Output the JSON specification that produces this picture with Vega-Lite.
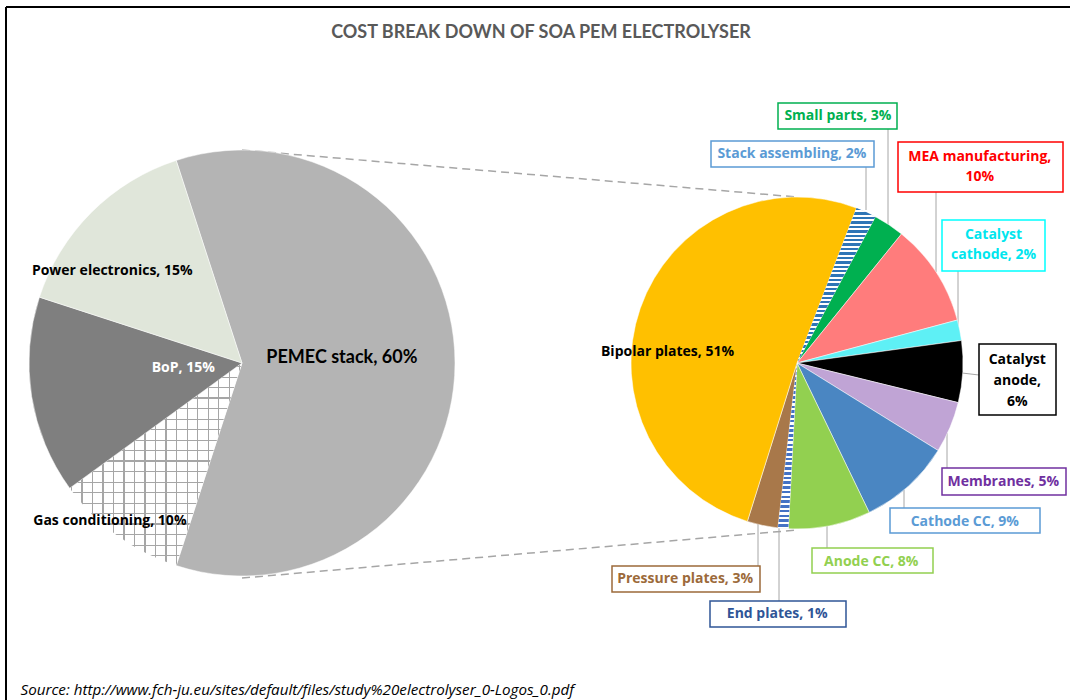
{
  "$schema": "https://vega.github.io/schema/vega-lite/v6.json",
  "width": 1064,
  "height": 693,
  "autosize": {"type": "none"},
  "padding": {"left": 6, "top": 7, "right": 0, "bottom": 0},
  "background": "#ffffff",
  "config": {"view": {"stroke": "#000000", "strokeWidth": 2, "strokeDash": [1064, 1757, 693, 0]}, "font": "Open Sans"},
  "title": {
    "text": "COST BREAK DOWN OF SOA PEM ELECTROLYSER",
    "font": "Lato", "fontSize": 18, "fontWeight": "bold", "color": "#595959",
    "anchor": "middle", "frame": "group", "offset": -49, "baseline": "alphabetic", "dx": 3
  },
  "datasets": {
    "main": [
      {"pie": "main", "cat": "PEMEC stack", "value": 60, "order": 1, "label": "PEMEC stack, 60%"},
      {"pie": "main", "cat": "Gas conditioning", "value": 10, "order": 2, "label": "Gas conditioning, 10%"},
      {"pie": "main", "cat": "BoP", "value": 15, "order": 3, "label": "BoP, 15%"},
      {"pie": "main", "cat": "Power electronics", "value": 15, "order": 4, "label": "Power electronics, 15%"}
    ],
    "sub": [
      {"pie": "sub", "cat": "Stack assembling", "value": 2, "order": 1, "label": "Stack assembling, 2%"},
      {"pie": "sub", "cat": "Small parts", "value": 3, "order": 2, "label": "Small parts, 3%"},
      {"pie": "sub", "cat": "MEA manufacturing", "value": 10, "order": 3, "label": "MEA manufacturing,\n10%"},
      {"pie": "sub", "cat": "Catalyst cathode", "value": 2, "order": 4, "label": "Catalyst\ncathode, 2%"},
      {"pie": "sub", "cat": "Catalyst anode", "value": 6, "order": 5, "label": "Catalyst\nanode,\n6%"},
      {"pie": "sub", "cat": "Membranes", "value": 5, "order": 6, "label": "Membranes, 5%"},
      {"pie": "sub", "cat": "Cathode CC", "value": 9, "order": 7, "label": "Cathode CC, 9%"},
      {"pie": "sub", "cat": "Anode CC", "value": 8, "order": 8, "label": "Anode CC, 8%"},
      {"pie": "sub", "cat": "End plates", "value": 1, "order": 9, "label": "End plates, 1%"},
      {"pie": "sub", "cat": "Pressure plates", "value": 3, "order": 10, "label": "Pressure plates, 3%"},
      {"pie": "sub", "cat": "Bipolar plates", "value": 51, "order": 11, "label": "Bipolar plates, 51%"}
    ]
  },
  "encoding": {
    "x": {
      "field": "pie", "type": "nominal",
      "scale": {"type": "point", "domain": ["main", "sub"], "range": [236, 791], "padding": 0},
      "axis": {
        "title": "Source: http://www.fch-ju.eu/sites/default/files/study%20electrolyser_0-Logos_0.pdf",
        "labels": false, "ticks": false, "domain": false, "grid": false,
        "titleFont": "Open Sans", "titleFontSize": 15.2, "titleFontStyle": "italic", "titleFontWeight": "normal",
        "titleColor": "#000000", "titleAlign": "left", "titleAnchor": "start", "titleAngle": 0,
        "titleX": 14, "titleY": -6, "titleBaseline": "alphabetic"
      }
    },
    "y": {
      "field": "pie", "type": "nominal",
      "scale": {"type": "point", "domain": ["main", "sub"], "range": [356, 356], "padding": 0},
      "axis": null
    }
  },
  "resolve": {"scale": {"theta": "independent"}},
  "layer": [
    {
      "data": {"values": [{"pie": "main", "pie2": "sub"}]},
      "mark": {"type": "rule", "color": "#a6a6a6", "strokeWidth": 1.5, "strokeDash": [8, 5], "yOffset": -213, "y2Offset": -166},
      "encoding": {"x2": {"field": "pie2"}, "y2": {"field": "pie2"}}
    },
    {
      "data": {"values": [{"pie": "main", "pie2": "sub"}]},
      "mark": {"type": "rule", "color": "#a6a6a6", "strokeWidth": 1.5, "strokeDash": [8, 5], "yOffset": 215, "y2Offset": 167},
      "encoding": {"x2": {"field": "pie2"}, "y2": {"field": "pie2"}}
    },
    {
      "data": {"name": "main"},
      "encoding": {
        "theta": {"field": "value", "type": "quantitative", "stack": true, "scale": {"range": [-0.31416, 5.96903]}},
        "order": {"field": "order", "type": "quantitative"},
        "detail": {"field": "cat", "type": "nominal"}
      },
      "layer": [
        {
          "mark": {"type": "arc", "radius": 213, "stroke": "#ffffff", "strokeWidth": 0.5},
          "encoding": {
            "color": {
              "field": "cat", "type": "nominal", "legend": null,
              "scale": {
                "domain": ["PEMEC stack", "Gas conditioning", "BoP", "Power electronics", "Stack assembling", "Small parts", "MEA manufacturing", "Catalyst cathode", "Catalyst anode", "Membranes", "Cathode CC", "Anode CC", "End plates", "Pressure plates", "Bipolar plates"],
                "range": ["#b4b4b4", "#ffffff", "#7f7f7f", "#e0e6da", "#8db4da", "#00b050", "#ff7c7c", "#5ef0f5", "#000000", "#c0a4d5", "#4a86c2", "#92d050", "#b0c4e6", "#a8784a", "#ffc000"]
              }
            }
          }
        },
        {
          "mark": {"type": "arc", "radius": 213, "strokeWidth": 0},
          "encoding": {
            "fill": {
              "condition": {
                "test": "datum.cat === 'Gas conditioning'",
                "value": {
                  "gradient": "linear", "x1": 0, "y1": 0, "x2": 1, "y2": 0,
                  "stops": [
                    {"offset": 0.008, "color": "rgba(166,166,166,0)"}, {"offset": 0.008, "color": "#a6a6a6"}, {"offset": 0.015, "color": "#a6a6a6"}, {"offset": 0.015, "color": "rgba(166,166,166,0)"},
                    {"offset": 0.068, "color": "rgba(166,166,166,0)"}, {"offset": 0.068, "color": "#a6a6a6"}, {"offset": 0.075, "color": "#a6a6a6"}, {"offset": 0.075, "color": "rgba(166,166,166,0)"},
                    {"offset": 0.129, "color": "rgba(166,166,166,0)"}, {"offset": 0.129, "color": "#a6a6a6"}, {"offset": 0.136, "color": "#a6a6a6"}, {"offset": 0.136, "color": "rgba(166,166,166,0)"},
                    {"offset": 0.190, "color": "rgba(166,166,166,0)"}, {"offset": 0.190, "color": "#a6a6a6"}, {"offset": 0.197, "color": "#a6a6a6"}, {"offset": 0.197, "color": "rgba(166,166,166,0)"},
                    {"offset": 0.251, "color": "rgba(166,166,166,0)"}, {"offset": 0.251, "color": "#a6a6a6"}, {"offset": 0.258, "color": "#a6a6a6"}, {"offset": 0.258, "color": "rgba(166,166,166,0)"},
                    {"offset": 0.312, "color": "rgba(166,166,166,0)"}, {"offset": 0.312, "color": "#a6a6a6"}, {"offset": 0.319, "color": "#a6a6a6"}, {"offset": 0.319, "color": "rgba(166,166,166,0)"},
                    {"offset": 0.373, "color": "rgba(166,166,166,0)"}, {"offset": 0.373, "color": "#a6a6a6"}, {"offset": 0.380, "color": "#a6a6a6"}, {"offset": 0.380, "color": "rgba(166,166,166,0)"},
                    {"offset": 0.434, "color": "rgba(166,166,166,0)"}, {"offset": 0.434, "color": "#a6a6a6"}, {"offset": 0.441, "color": "#a6a6a6"}, {"offset": 0.441, "color": "rgba(166,166,166,0)"},
                    {"offset": 0.495, "color": "rgba(166,166,166,0)"}, {"offset": 0.495, "color": "#a6a6a6"}, {"offset": 0.502, "color": "#a6a6a6"}, {"offset": 0.502, "color": "rgba(166,166,166,0)"},
                    {"offset": 0.556, "color": "rgba(166,166,166,0)"}, {"offset": 0.556, "color": "#a6a6a6"}, {"offset": 0.563, "color": "#a6a6a6"}, {"offset": 0.563, "color": "rgba(166,166,166,0)"},
                    {"offset": 0.617, "color": "rgba(166,166,166,0)"}, {"offset": 0.617, "color": "#a6a6a6"}, {"offset": 0.624, "color": "#a6a6a6"}, {"offset": 0.624, "color": "rgba(166,166,166,0)"},
                    {"offset": 0.678, "color": "rgba(166,166,166,0)"}, {"offset": 0.678, "color": "#a6a6a6"}, {"offset": 0.685, "color": "#a6a6a6"}, {"offset": 0.685, "color": "rgba(166,166,166,0)"},
                    {"offset": 0.739, "color": "rgba(166,166,166,0)"}, {"offset": 0.739, "color": "#a6a6a6"}, {"offset": 0.746, "color": "#a6a6a6"}, {"offset": 0.746, "color": "rgba(166,166,166,0)"},
                    {"offset": 0.800, "color": "rgba(166,166,166,0)"}, {"offset": 0.800, "color": "#a6a6a6"}, {"offset": 0.807, "color": "#a6a6a6"}, {"offset": 0.807, "color": "rgba(166,166,166,0)"},
                    {"offset": 0.861, "color": "rgba(166,166,166,0)"}, {"offset": 0.861, "color": "#a6a6a6"}, {"offset": 0.868, "color": "#a6a6a6"}, {"offset": 0.868, "color": "rgba(166,166,166,0)"},
                    {"offset": 0.922, "color": "rgba(166,166,166,0)"}, {"offset": 0.922, "color": "#a6a6a6"}, {"offset": 0.929, "color": "#a6a6a6"}, {"offset": 0.929, "color": "rgba(166,166,166,0)"},
                    {"offset": 0.983, "color": "rgba(166,166,166,0)"}, {"offset": 0.983, "color": "#a6a6a6"}, {"offset": 0.990, "color": "#a6a6a6"}, {"offset": 0.990, "color": "rgba(166,166,166,0)"}
                  ]
                }
              },
              "value": "transparent"
            }
          }
        },
        {
          "mark": {"type": "arc", "radius": 213, "strokeWidth": 0},
          "encoding": {
            "fill": {
              "condition": {
                "test": "datum.cat === 'Gas conditioning'",
                "value": {
                  "gradient": "linear", "x1": 0, "y1": 0, "x2": 0, "y2": 1,
                  "stops": [
                    {"offset": 0.015, "color": "rgba(166,166,166,0)"}, {"offset": 0.015, "color": "#a6a6a6"}, {"offset": 0.021, "color": "#a6a6a6"}, {"offset": 0.021, "color": "rgba(166,166,166,0)"},
                    {"offset": 0.067, "color": "rgba(166,166,166,0)"}, {"offset": 0.067, "color": "#a6a6a6"}, {"offset": 0.073, "color": "#a6a6a6"}, {"offset": 0.073, "color": "rgba(166,166,166,0)"},
                    {"offset": 0.119, "color": "rgba(166,166,166,0)"}, {"offset": 0.119, "color": "#a6a6a6"}, {"offset": 0.125, "color": "#a6a6a6"}, {"offset": 0.125, "color": "rgba(166,166,166,0)"},
                    {"offset": 0.170, "color": "rgba(166,166,166,0)"}, {"offset": 0.170, "color": "#a6a6a6"}, {"offset": 0.176, "color": "#a6a6a6"}, {"offset": 0.176, "color": "rgba(166,166,166,0)"},
                    {"offset": 0.222, "color": "rgba(166,166,166,0)"}, {"offset": 0.222, "color": "#a6a6a6"}, {"offset": 0.228, "color": "#a6a6a6"}, {"offset": 0.228, "color": "rgba(166,166,166,0)"},
                    {"offset": 0.274, "color": "rgba(166,166,166,0)"}, {"offset": 0.274, "color": "#a6a6a6"}, {"offset": 0.280, "color": "#a6a6a6"}, {"offset": 0.280, "color": "rgba(166,166,166,0)"},
                    {"offset": 0.326, "color": "rgba(166,166,166,0)"}, {"offset": 0.326, "color": "#a6a6a6"}, {"offset": 0.332, "color": "#a6a6a6"}, {"offset": 0.332, "color": "rgba(166,166,166,0)"},
                    {"offset": 0.378, "color": "rgba(166,166,166,0)"}, {"offset": 0.378, "color": "#a6a6a6"}, {"offset": 0.384, "color": "#a6a6a6"}, {"offset": 0.384, "color": "rgba(166,166,166,0)"},
                    {"offset": 0.429, "color": "rgba(166,166,166,0)"}, {"offset": 0.429, "color": "#a6a6a6"}, {"offset": 0.435, "color": "#a6a6a6"}, {"offset": 0.435, "color": "rgba(166,166,166,0)"},
                    {"offset": 0.481, "color": "rgba(166,166,166,0)"}, {"offset": 0.481, "color": "#a6a6a6"}, {"offset": 0.487, "color": "#a6a6a6"}, {"offset": 0.487, "color": "rgba(166,166,166,0)"},
                    {"offset": 0.533, "color": "rgba(166,166,166,0)"}, {"offset": 0.533, "color": "#a6a6a6"}, {"offset": 0.539, "color": "#a6a6a6"}, {"offset": 0.539, "color": "rgba(166,166,166,0)"},
                    {"offset": 0.585, "color": "rgba(166,166,166,0)"}, {"offset": 0.585, "color": "#a6a6a6"}, {"offset": 0.591, "color": "#a6a6a6"}, {"offset": 0.591, "color": "rgba(166,166,166,0)"},
                    {"offset": 0.637, "color": "rgba(166,166,166,0)"}, {"offset": 0.637, "color": "#a6a6a6"}, {"offset": 0.643, "color": "#a6a6a6"}, {"offset": 0.643, "color": "rgba(166,166,166,0)"},
                    {"offset": 0.689, "color": "rgba(166,166,166,0)"}, {"offset": 0.689, "color": "#a6a6a6"}, {"offset": 0.695, "color": "#a6a6a6"}, {"offset": 0.695, "color": "rgba(166,166,166,0)"},
                    {"offset": 0.740, "color": "rgba(166,166,166,0)"}, {"offset": 0.740, "color": "#a6a6a6"}, {"offset": 0.746, "color": "#a6a6a6"}, {"offset": 0.746, "color": "rgba(166,166,166,0)"},
                    {"offset": 0.792, "color": "rgba(166,166,166,0)"}, {"offset": 0.792, "color": "#a6a6a6"}, {"offset": 0.798, "color": "#a6a6a6"}, {"offset": 0.798, "color": "rgba(166,166,166,0)"},
                    {"offset": 0.844, "color": "rgba(166,166,166,0)"}, {"offset": 0.844, "color": "#a6a6a6"}, {"offset": 0.850, "color": "#a6a6a6"}, {"offset": 0.850, "color": "rgba(166,166,166,0)"},
                    {"offset": 0.896, "color": "rgba(166,166,166,0)"}, {"offset": 0.896, "color": "#a6a6a6"}, {"offset": 0.902, "color": "#a6a6a6"}, {"offset": 0.902, "color": "rgba(166,166,166,0)"},
                    {"offset": 0.948, "color": "rgba(166,166,166,0)"}, {"offset": 0.948, "color": "#a6a6a6"}, {"offset": 0.954, "color": "#a6a6a6"}, {"offset": 0.954, "color": "rgba(166,166,166,0)"}
                  ]
                }
              },
              "value": "transparent"
            }
          }
        },
        {
          "mark": {"type": "text", "radius": 100, "thetaOffset": -0.051, "font": "Lato", "fontSize": 18, "fontWeight": "bold", "color": "#000000"},
          "encoding": {"text": {"condition": {"test": "datum.cat === 'PEMEC stack'", "field": "label", "type": "nominal"}, "value": ""}}
        },
        {
          "mark": {"type": "text", "radius": 159, "thetaOffset": -0.169, "font": "Open Sans", "fontSize": 14, "fontWeight": "bold", "color": "#000000"},
          "encoding": {"text": {"condition": {"test": "datum.cat === 'Power electronics'", "field": "label", "type": "nominal"}, "value": ""}}
        },
        {
          "mark": {"type": "text", "radius": 59, "thetaOffset": 0.073, "font": "Open Sans", "fontSize": 14, "fontWeight": "bold", "color": "#ffffff"},
          "encoding": {"text": {"condition": {"test": "datum.cat === 'BoP'", "field": "label", "type": "nominal"}, "value": ""}}
        },
        {
          "mark": {"type": "text", "radius": 206, "thetaOffset": 0.068, "font": "Open Sans", "fontSize": 14, "fontWeight": "bold", "color": "#000000"},
          "encoding": {"text": {"condition": {"test": "datum.cat === 'Gas conditioning'", "field": "label", "type": "nominal"}, "value": ""}}
        }
      ]
    },
    {"data": {"values": [{"pie": "sub", "cat": "Stack assembling"}]}, "mark": {"type": "rule", "color": "#a6a6a6", "strokeWidth": 1, "xOffset": 69, "x2Offset": 69, "yOffset": -196, "y2Offset": -153}, "encoding": {"x2": {"field": "pie"}, "y2": {"field": "pie"}}},
    {"data": {"values": [{"pie": "sub", "cat": "Small parts"}]}, "mark": {"type": "rule", "color": "#a6a6a6", "strokeWidth": 1, "xOffset": 91, "x2Offset": 91, "yOffset": -234, "y2Offset": -138}, "encoding": {"x2": {"field": "pie"}, "y2": {"field": "pie"}}},
    {"data": {"values": [{"pie": "sub", "cat": "MEA manufacturing"}]}, "mark": {"type": "rule", "color": "#a6a6a6", "strokeWidth": 1, "xOffset": 139, "x2Offset": 139, "yOffset": -171, "y2Offset": -91}, "encoding": {"x2": {"field": "pie"}, "y2": {"field": "pie"}}},
    {"data": {"values": [{"pie": "sub", "cat": "Catalyst cathode"}]}, "mark": {"type": "rule", "color": "#a6a6a6", "strokeWidth": 1, "xOffset": 161, "x2Offset": 161, "yOffset": -92, "y2Offset": -37}, "encoding": {"x2": {"field": "pie"}, "y2": {"field": "pie"}}},
    {"data": {"values": [{"pie": "sub", "cat": "Catalyst anode"}]}, "mark": {"type": "rule", "color": "#a6a6a6", "strokeWidth": 1, "xOffset": 165, "x2Offset": 182, "yOffset": 10, "y2Offset": 12}, "encoding": {"x2": {"field": "pie"}, "y2": {"field": "pie"}}},
    {"data": {"values": [{"pie": "sub", "cat": "Membranes"}]}, "mark": {"type": "rule", "color": "#a6a6a6", "strokeWidth": 1, "xOffset": 150, "x2Offset": 150, "yOffset": 105, "y2Offset": 70}, "encoding": {"x2": {"field": "pie"}, "y2": {"field": "pie"}}},
    {"data": {"values": [{"pie": "sub", "cat": "Cathode CC"}]}, "mark": {"type": "rule", "color": "#a6a6a6", "strokeWidth": 1, "xOffset": 107, "x2Offset": 107, "yOffset": 145, "y2Offset": 127}, "encoding": {"x2": {"field": "pie"}, "y2": {"field": "pie"}}},
    {"data": {"values": [{"pie": "sub", "cat": "Anode CC"}]}, "mark": {"type": "rule", "color": "#a6a6a6", "strokeWidth": 1, "xOffset": 30, "x2Offset": 30, "yOffset": 185, "y2Offset": 162}, "encoding": {"x2": {"field": "pie"}, "y2": {"field": "pie"}}},
    {"data": {"values": [{"pie": "sub", "cat": "Pressure plates"}]}, "mark": {"type": "rule", "color": "#a6a6a6", "strokeWidth": 1, "xOffset": -39, "x2Offset": -39, "yOffset": 203, "y2Offset": 160}, "encoding": {"x2": {"field": "pie"}, "y2": {"field": "pie"}}},
    {"data": {"values": [{"pie": "sub", "cat": "End plates"}]}, "mark": {"type": "rule", "color": "#a6a6a6", "strokeWidth": 1, "xOffset": -18, "x2Offset": -18, "yOffset": 238, "y2Offset": 164}, "encoding": {"x2": {"field": "pie"}, "y2": {"field": "pie"}}},
    {"data": {"values": [{"pie": "sub", "cat": "Small parts"}]}, "mark": {"type": "rect", "fill": "#ffffff", "stroke": "#00b050", "strokeWidth": 1.5, "xOffset": -19, "x2Offset": 100, "yOffset": -260, "y2Offset": -234}, "encoding": {"x2": {"field": "pie"}, "y2": {"field": "pie"}}},
    {"data": {"values": [{"pie": "sub", "cat": "Stack assembling"}]}, "mark": {"type": "rect", "fill": "#ffffff", "stroke": "#5b9bd5", "strokeWidth": 1.5, "xOffset": -86, "x2Offset": 77, "yOffset": -222, "y2Offset": -196}, "encoding": {"x2": {"field": "pie"}, "y2": {"field": "pie"}}},
    {"data": {"values": [{"pie": "sub", "cat": "MEA manufacturing"}]}, "mark": {"type": "rect", "fill": "#ffffff", "stroke": "#ff0000", "strokeWidth": 1.5, "xOffset": 101, "x2Offset": 266, "yOffset": -221, "y2Offset": -171}, "encoding": {"x2": {"field": "pie"}, "y2": {"field": "pie"}}},
    {"data": {"values": [{"pie": "sub", "cat": "Catalyst cathode"}]}, "mark": {"type": "rect", "fill": "#ffffff", "stroke": "#00ffff", "strokeWidth": 1.5, "xOffset": 145, "x2Offset": 248, "yOffset": -143, "y2Offset": -92}, "encoding": {"x2": {"field": "pie"}, "y2": {"field": "pie"}}},
    {"data": {"values": [{"pie": "sub", "cat": "Catalyst anode"}]}, "mark": {"type": "rect", "fill": "#ffffff", "stroke": "#000000", "strokeWidth": 1.5, "xOffset": 182, "x2Offset": 259, "yOffset": -19, "y2Offset": 52}, "encoding": {"x2": {"field": "pie"}, "y2": {"field": "pie"}}},
    {"data": {"values": [{"pie": "sub", "cat": "Membranes"}]}, "mark": {"type": "rect", "fill": "#ffffff", "stroke": "#7030a0", "strokeWidth": 1.5, "xOffset": 145, "x2Offset": 269, "yOffset": 105, "y2Offset": 132}, "encoding": {"x2": {"field": "pie"}, "y2": {"field": "pie"}}},
    {"data": {"values": [{"pie": "sub", "cat": "Cathode CC"}]}, "mark": {"type": "rect", "fill": "#ffffff", "stroke": "#5b9bd5", "strokeWidth": 1.5, "xOffset": 93, "x2Offset": 243, "yOffset": 145, "y2Offset": 170}, "encoding": {"x2": {"field": "pie"}, "y2": {"field": "pie"}}},
    {"data": {"values": [{"pie": "sub", "cat": "Anode CC"}]}, "mark": {"type": "rect", "fill": "#ffffff", "stroke": "#92d050", "strokeWidth": 1.5, "xOffset": 15, "x2Offset": 136, "yOffset": 185, "y2Offset": 210}, "encoding": {"x2": {"field": "pie"}, "y2": {"field": "pie"}}},
    {"data": {"values": [{"pie": "sub", "cat": "Pressure plates"}]}, "mark": {"type": "rect", "fill": "#ffffff", "stroke": "#9c6a3a", "strokeWidth": 1.5, "xOffset": -185, "x2Offset": -37, "yOffset": 203, "y2Offset": 229}, "encoding": {"x2": {"field": "pie"}, "y2": {"field": "pie"}}},
    {"data": {"values": [{"pie": "sub", "cat": "End plates"}]}, "mark": {"type": "rect", "fill": "#ffffff", "stroke": "#2f5597", "strokeWidth": 1.5, "xOffset": -87, "x2Offset": 49, "yOffset": 238, "y2Offset": 264}, "encoding": {"x2": {"field": "pie"}, "y2": {"field": "pie"}}},
    {
      "data": {"name": "sub"},
      "encoding": {
        "theta": {"field": "value", "type": "quantitative", "stack": true, "scale": {"range": [0.36652, 6.64971]}},
        "order": {"field": "order", "type": "quantitative"},
        "detail": {"field": "cat", "type": "nominal"}
      },
      "layer": [
        {
          "mark": {"type": "arc", "radius": 166, "stroke": "#ffffff", "strokeWidth": 0.5},
          "encoding": {"color": {"field": "cat", "type": "nominal", "legend": null}}
        },
        {
          "mark": {"type": "arc", "radius": 166, "strokeWidth": 0},
          "encoding": {
            "fill": {
              "condition": {
                "test": "datum.cat === 'Stack assembling'",
                "value": {
                  "gradient": "linear", "x1": 0, "y1": 0, "x2": 0, "y2": 1,
                  "stops": [
                    {"offset": 0, "color": "#2e75b6"}, {"offset": 0.0157, "color": "#2e75b6"}, {"offset": 0.0157, "color": "#ffffff"}, {"offset": 0.0286, "color": "#ffffff"},
                    {"offset": 0.0286, "color": "#2e75b6"}, {"offset": 0.0443, "color": "#2e75b6"}, {"offset": 0.0443, "color": "#ffffff"}, {"offset": 0.0571, "color": "#ffffff"},
                    {"offset": 0.0571, "color": "#2e75b6"}, {"offset": 0.0728, "color": "#2e75b6"}, {"offset": 0.0728, "color": "#ffffff"}, {"offset": 0.0857, "color": "#ffffff"},
                    {"offset": 0.0857, "color": "#2e75b6"}, {"offset": 0.1014, "color": "#2e75b6"}, {"offset": 0.1014, "color": "#ffffff"}, {"offset": 0.1143, "color": "#ffffff"},
                    {"offset": 0.1143, "color": "#2e75b6"}, {"offset": 0.13, "color": "#2e75b6"}, {"offset": 0.13, "color": "#ffffff"}, {"offset": 0.1429, "color": "#ffffff"},
                    {"offset": 0.1429, "color": "#2e75b6"}, {"offset": 0.1586, "color": "#2e75b6"}, {"offset": 0.1586, "color": "#ffffff"}, {"offset": 0.1714, "color": "#ffffff"},
                    {"offset": 0.1714, "color": "#2e75b6"}, {"offset": 0.1871, "color": "#2e75b6"}, {"offset": 0.1871, "color": "#ffffff"}, {"offset": 0.2, "color": "#ffffff"},
                    {"offset": 0.2, "color": "#2e75b6"}, {"offset": 0.2157, "color": "#2e75b6"}, {"offset": 0.2157, "color": "#ffffff"}, {"offset": 0.2286, "color": "#ffffff"},
                    {"offset": 0.2286, "color": "#2e75b6"}, {"offset": 0.2443, "color": "#2e75b6"}, {"offset": 0.2443, "color": "#ffffff"}, {"offset": 0.2571, "color": "#ffffff"},
                    {"offset": 0.2571, "color": "#2e75b6"}, {"offset": 0.2728, "color": "#2e75b6"}, {"offset": 0.2728, "color": "#ffffff"}, {"offset": 0.2857, "color": "#ffffff"},
                    {"offset": 0.2857, "color": "#2e75b6"}, {"offset": 0.3014, "color": "#2e75b6"}, {"offset": 0.3014, "color": "#ffffff"}, {"offset": 0.3143, "color": "#ffffff"},
                    {"offset": 0.3143, "color": "#2e75b6"}, {"offset": 0.33, "color": "#2e75b6"}, {"offset": 0.33, "color": "#ffffff"}, {"offset": 0.3429, "color": "#ffffff"},
                    {"offset": 0.3429, "color": "#2e75b6"}, {"offset": 0.3586, "color": "#2e75b6"}, {"offset": 0.3586, "color": "#ffffff"}, {"offset": 0.3714, "color": "#ffffff"},
                    {"offset": 0.3714, "color": "#2e75b6"}, {"offset": 0.3871, "color": "#2e75b6"}, {"offset": 0.3871, "color": "#ffffff"}, {"offset": 0.4, "color": "#ffffff"},
                    {"offset": 0.4, "color": "#2e75b6"}, {"offset": 0.4157, "color": "#2e75b6"}, {"offset": 0.4157, "color": "#ffffff"}, {"offset": 0.4286, "color": "#ffffff"},
                    {"offset": 0.4286, "color": "#2e75b6"}, {"offset": 0.4443, "color": "#2e75b6"}, {"offset": 0.4443, "color": "#ffffff"}, {"offset": 0.4571, "color": "#ffffff"},
                    {"offset": 0.4571, "color": "#2e75b6"}, {"offset": 0.4728, "color": "#2e75b6"}, {"offset": 0.4728, "color": "#ffffff"}, {"offset": 0.4857, "color": "#ffffff"},
                    {"offset": 0.4857, "color": "#2e75b6"}, {"offset": 0.5014, "color": "#2e75b6"}, {"offset": 0.5014, "color": "#ffffff"}, {"offset": 0.5143, "color": "#ffffff"},
                    {"offset": 0.5143, "color": "#2e75b6"}, {"offset": 0.53, "color": "#2e75b6"}, {"offset": 0.53, "color": "#ffffff"}, {"offset": 0.5429, "color": "#ffffff"},
                    {"offset": 0.5429, "color": "#2e75b6"}, {"offset": 0.5586, "color": "#2e75b6"}, {"offset": 0.5586, "color": "#ffffff"}, {"offset": 0.5714, "color": "#ffffff"},
                    {"offset": 0.5714, "color": "#2e75b6"}, {"offset": 0.5871, "color": "#2e75b6"}, {"offset": 0.5871, "color": "#ffffff"}, {"offset": 0.6, "color": "#ffffff"},
                    {"offset": 0.6, "color": "#2e75b6"}, {"offset": 0.6157, "color": "#2e75b6"}, {"offset": 0.6157, "color": "#ffffff"}, {"offset": 0.6286, "color": "#ffffff"},
                    {"offset": 0.6286, "color": "#2e75b6"}, {"offset": 0.6443, "color": "#2e75b6"}, {"offset": 0.6443, "color": "#ffffff"}, {"offset": 0.6571, "color": "#ffffff"},
                    {"offset": 0.6571, "color": "#2e75b6"}, {"offset": 0.6728, "color": "#2e75b6"}, {"offset": 0.6728, "color": "#ffffff"}, {"offset": 0.6857, "color": "#ffffff"},
                    {"offset": 0.6857, "color": "#2e75b6"}, {"offset": 0.7014, "color": "#2e75b6"}, {"offset": 0.7014, "color": "#ffffff"}, {"offset": 0.7143, "color": "#ffffff"},
                    {"offset": 0.7143, "color": "#2e75b6"}, {"offset": 0.73, "color": "#2e75b6"}, {"offset": 0.73, "color": "#ffffff"}, {"offset": 0.7429, "color": "#ffffff"},
                    {"offset": 0.7429, "color": "#2e75b6"}, {"offset": 0.7586, "color": "#2e75b6"}, {"offset": 0.7586, "color": "#ffffff"}, {"offset": 0.7714, "color": "#ffffff"},
                    {"offset": 0.7714, "color": "#2e75b6"}, {"offset": 0.7871, "color": "#2e75b6"}, {"offset": 0.7871, "color": "#ffffff"}, {"offset": 0.8, "color": "#ffffff"},
                    {"offset": 0.8, "color": "#2e75b6"}, {"offset": 0.8157, "color": "#2e75b6"}, {"offset": 0.8157, "color": "#ffffff"}, {"offset": 0.8286, "color": "#ffffff"},
                    {"offset": 0.8286, "color": "#2e75b6"}, {"offset": 0.8443, "color": "#2e75b6"}, {"offset": 0.8443, "color": "#ffffff"}, {"offset": 0.8571, "color": "#ffffff"},
                    {"offset": 0.8571, "color": "#2e75b6"}, {"offset": 0.8728, "color": "#2e75b6"}, {"offset": 0.8728, "color": "#ffffff"}, {"offset": 0.8857, "color": "#ffffff"},
                    {"offset": 0.8857, "color": "#2e75b6"}, {"offset": 0.9014, "color": "#2e75b6"}, {"offset": 0.9014, "color": "#ffffff"}, {"offset": 0.9143, "color": "#ffffff"},
                    {"offset": 0.9143, "color": "#2e75b6"}, {"offset": 0.93, "color": "#2e75b6"}, {"offset": 0.93, "color": "#ffffff"}, {"offset": 0.9429, "color": "#ffffff"},
                    {"offset": 0.9429, "color": "#2e75b6"}, {"offset": 0.9586, "color": "#2e75b6"}, {"offset": 0.9586, "color": "#ffffff"}, {"offset": 0.9714, "color": "#ffffff"},
                    {"offset": 0.9714, "color": "#2e75b6"}, {"offset": 0.9871, "color": "#2e75b6"}, {"offset": 0.9871, "color": "#ffffff"}, {"offset": 1, "color": "#ffffff"}
                  ]
                }
              },
              "value": "transparent"
            }
          }
        },
        {
          "mark": {"type": "arc", "radius": 166, "strokeWidth": 0},
          "encoding": {
            "fill": {
              "condition": {
                "test": "datum.cat === 'End plates'",
                "value": {
                  "gradient": "linear", "x1": 0, "y1": 0, "x2": 0, "y2": 1,
                  "stops": [
                    {"offset": 0, "color": "#4472c4"}, {"offset": 0.0157, "color": "#4472c4"}, {"offset": 0.0157, "color": "#ffffff"}, {"offset": 0.0286, "color": "#ffffff"},
                    {"offset": 0.0286, "color": "#4472c4"}, {"offset": 0.0443, "color": "#4472c4"}, {"offset": 0.0443, "color": "#ffffff"}, {"offset": 0.0571, "color": "#ffffff"},
                    {"offset": 0.0571, "color": "#4472c4"}, {"offset": 0.0728, "color": "#4472c4"}, {"offset": 0.0728, "color": "#ffffff"}, {"offset": 0.0857, "color": "#ffffff"},
                    {"offset": 0.0857, "color": "#4472c4"}, {"offset": 0.1014, "color": "#4472c4"}, {"offset": 0.1014, "color": "#ffffff"}, {"offset": 0.1143, "color": "#ffffff"},
                    {"offset": 0.1143, "color": "#4472c4"}, {"offset": 0.13, "color": "#4472c4"}, {"offset": 0.13, "color": "#ffffff"}, {"offset": 0.1429, "color": "#ffffff"},
                    {"offset": 0.1429, "color": "#4472c4"}, {"offset": 0.1586, "color": "#4472c4"}, {"offset": 0.1586, "color": "#ffffff"}, {"offset": 0.1714, "color": "#ffffff"},
                    {"offset": 0.1714, "color": "#4472c4"}, {"offset": 0.1871, "color": "#4472c4"}, {"offset": 0.1871, "color": "#ffffff"}, {"offset": 0.2, "color": "#ffffff"},
                    {"offset": 0.2, "color": "#4472c4"}, {"offset": 0.2157, "color": "#4472c4"}, {"offset": 0.2157, "color": "#ffffff"}, {"offset": 0.2286, "color": "#ffffff"},
                    {"offset": 0.2286, "color": "#4472c4"}, {"offset": 0.2443, "color": "#4472c4"}, {"offset": 0.2443, "color": "#ffffff"}, {"offset": 0.2571, "color": "#ffffff"},
                    {"offset": 0.2571, "color": "#4472c4"}, {"offset": 0.2728, "color": "#4472c4"}, {"offset": 0.2728, "color": "#ffffff"}, {"offset": 0.2857, "color": "#ffffff"},
                    {"offset": 0.2857, "color": "#4472c4"}, {"offset": 0.3014, "color": "#4472c4"}, {"offset": 0.3014, "color": "#ffffff"}, {"offset": 0.3143, "color": "#ffffff"},
                    {"offset": 0.3143, "color": "#4472c4"}, {"offset": 0.33, "color": "#4472c4"}, {"offset": 0.33, "color": "#ffffff"}, {"offset": 0.3429, "color": "#ffffff"},
                    {"offset": 0.3429, "color": "#4472c4"}, {"offset": 0.3586, "color": "#4472c4"}, {"offset": 0.3586, "color": "#ffffff"}, {"offset": 0.3714, "color": "#ffffff"},
                    {"offset": 0.3714, "color": "#4472c4"}, {"offset": 0.3871, "color": "#4472c4"}, {"offset": 0.3871, "color": "#ffffff"}, {"offset": 0.4, "color": "#ffffff"},
                    {"offset": 0.4, "color": "#4472c4"}, {"offset": 0.4157, "color": "#4472c4"}, {"offset": 0.4157, "color": "#ffffff"}, {"offset": 0.4286, "color": "#ffffff"},
                    {"offset": 0.4286, "color": "#4472c4"}, {"offset": 0.4443, "color": "#4472c4"}, {"offset": 0.4443, "color": "#ffffff"}, {"offset": 0.4571, "color": "#ffffff"},
                    {"offset": 0.4571, "color": "#4472c4"}, {"offset": 0.4728, "color": "#4472c4"}, {"offset": 0.4728, "color": "#ffffff"}, {"offset": 0.4857, "color": "#ffffff"},
                    {"offset": 0.4857, "color": "#4472c4"}, {"offset": 0.5014, "color": "#4472c4"}, {"offset": 0.5014, "color": "#ffffff"}, {"offset": 0.5143, "color": "#ffffff"},
                    {"offset": 0.5143, "color": "#4472c4"}, {"offset": 0.53, "color": "#4472c4"}, {"offset": 0.53, "color": "#ffffff"}, {"offset": 0.5429, "color": "#ffffff"},
                    {"offset": 0.5429, "color": "#4472c4"}, {"offset": 0.5586, "color": "#4472c4"}, {"offset": 0.5586, "color": "#ffffff"}, {"offset": 0.5714, "color": "#ffffff"},
                    {"offset": 0.5714, "color": "#4472c4"}, {"offset": 0.5871, "color": "#4472c4"}, {"offset": 0.5871, "color": "#ffffff"}, {"offset": 0.6, "color": "#ffffff"},
                    {"offset": 0.6, "color": "#4472c4"}, {"offset": 0.6157, "color": "#4472c4"}, {"offset": 0.6157, "color": "#ffffff"}, {"offset": 0.6286, "color": "#ffffff"},
                    {"offset": 0.6286, "color": "#4472c4"}, {"offset": 0.6443, "color": "#4472c4"}, {"offset": 0.6443, "color": "#ffffff"}, {"offset": 0.6571, "color": "#ffffff"},
                    {"offset": 0.6571, "color": "#4472c4"}, {"offset": 0.6728, "color": "#4472c4"}, {"offset": 0.6728, "color": "#ffffff"}, {"offset": 0.6857, "color": "#ffffff"},
                    {"offset": 0.6857, "color": "#4472c4"}, {"offset": 0.7014, "color": "#4472c4"}, {"offset": 0.7014, "color": "#ffffff"}, {"offset": 0.7143, "color": "#ffffff"},
                    {"offset": 0.7143, "color": "#4472c4"}, {"offset": 0.73, "color": "#4472c4"}, {"offset": 0.73, "color": "#ffffff"}, {"offset": 0.7429, "color": "#ffffff"},
                    {"offset": 0.7429, "color": "#4472c4"}, {"offset": 0.7586, "color": "#4472c4"}, {"offset": 0.7586, "color": "#ffffff"}, {"offset": 0.7714, "color": "#ffffff"},
                    {"offset": 0.7714, "color": "#4472c4"}, {"offset": 0.7871, "color": "#4472c4"}, {"offset": 0.7871, "color": "#ffffff"}, {"offset": 0.8, "color": "#ffffff"},
                    {"offset": 0.8, "color": "#4472c4"}, {"offset": 0.8157, "color": "#4472c4"}, {"offset": 0.8157, "color": "#ffffff"}, {"offset": 0.8286, "color": "#ffffff"},
                    {"offset": 0.8286, "color": "#4472c4"}, {"offset": 0.8443, "color": "#4472c4"}, {"offset": 0.8443, "color": "#ffffff"}, {"offset": 0.8571, "color": "#ffffff"},
                    {"offset": 0.8571, "color": "#4472c4"}, {"offset": 0.8728, "color": "#4472c4"}, {"offset": 0.8728, "color": "#ffffff"}, {"offset": 0.8857, "color": "#ffffff"},
                    {"offset": 0.8857, "color": "#4472c4"}, {"offset": 0.9014, "color": "#4472c4"}, {"offset": 0.9014, "color": "#ffffff"}, {"offset": 0.9143, "color": "#ffffff"},
                    {"offset": 0.9143, "color": "#4472c4"}, {"offset": 0.93, "color": "#4472c4"}, {"offset": 0.93, "color": "#ffffff"}, {"offset": 0.9429, "color": "#ffffff"},
                    {"offset": 0.9429, "color": "#4472c4"}, {"offset": 0.9586, "color": "#4472c4"}, {"offset": 0.9586, "color": "#ffffff"}, {"offset": 0.9714, "color": "#ffffff"},
                    {"offset": 0.9714, "color": "#4472c4"}, {"offset": 0.9871, "color": "#4472c4"}, {"offset": 0.9871, "color": "#ffffff"}, {"offset": 1, "color": "#ffffff"}
                  ]
                }
              },
              "value": "transparent"
            }
          }
        },
        {
          "mark": {"type": "text", "radius": 209, "thetaOffset": -0.454, "font": "Open Sans", "fontSize": 14, "fontWeight": "bold", "color": "#5b9bd5", "lineBreak": "\n", "lineHeight": 20},
          "encoding": {"text": {"condition": {"test": "datum.cat === 'Stack assembling'", "field": "label", "type": "nominal"}, "value": ""}}
        },
        {
          "mark": {"type": "text", "radius": 250, "thetaOffset": -0.422, "font": "Open Sans", "fontSize": 14, "fontWeight": "bold", "color": "#00b050", "lineBreak": "\n", "lineHeight": 20},
          "encoding": {"text": {"condition": {"test": "datum.cat === 'Small parts'", "field": "label", "type": "nominal"}, "value": ""}}
        },
        {
          "mark": {"type": "text", "radius": 268, "thetaOffset": -0.244, "dy": -10, "font": "Open Sans", "fontSize": 14, "fontWeight": "bold", "color": "#ff0000", "lineBreak": "\n", "lineHeight": 20},
          "encoding": {"text": {"condition": {"test": "datum.cat === 'MEA manufacturing'", "field": "label", "type": "nominal"}, "value": ""}}
        },
        {
          "mark": {"type": "text", "radius": 229, "thetaOffset": -0.34, "dy": -10, "font": "Open Sans", "fontSize": 14, "fontWeight": "bold", "color": "#00e6ee", "lineBreak": "\n", "lineHeight": 20},
          "encoding": {"text": {"condition": {"test": "datum.cat === 'Catalyst cathode'", "field": "label", "type": "nominal"}, "value": ""}}
        },
        {
          "mark": {"type": "text", "radius": 221, "thetaOffset": 0.028, "dy": -21, "font": "Open Sans", "fontSize": 14, "fontWeight": "bold", "color": "#000000", "lineBreak": "\n", "lineHeight": 21},
          "encoding": {"text": {"condition": {"test": "datum.cat === 'Catalyst anode'", "field": "label", "type": "nominal"}, "value": ""}}
        },
        {
          "mark": {"type": "text", "radius": 238, "thetaOffset": 0.124, "font": "Open Sans", "fontSize": 14, "fontWeight": "bold", "color": "#7030a0", "lineBreak": "\n", "lineHeight": 20},
          "encoding": {"text": {"condition": {"test": "datum.cat === 'Membranes'", "field": "label", "type": "nominal"}, "value": ""}}
        },
        {
          "mark": {"type": "text", "radius": 231, "thetaOffset": -0.08, "font": "Open Sans", "fontSize": 14, "fontWeight": "bold", "color": "#5b9bd5", "lineBreak": "\n", "lineHeight": 20},
          "encoding": {"text": {"condition": {"test": "datum.cat === 'Cathode CC'", "field": "label", "type": "nominal"}, "value": ""}}
        },
        {
          "mark": {"type": "text", "radius": 212, "thetaOffset": -0.159, "font": "Open Sans", "fontSize": 14, "fontWeight": "bold", "color": "#92d050", "lineBreak": "\n", "lineHeight": 20},
          "encoding": {"text": {"condition": {"test": "datum.cat === 'Anode CC'", "field": "label", "type": "nominal"}, "value": ""}}
        },
        {
          "mark": {"type": "text", "radius": 252, "thetaOffset": -0.005, "font": "Open Sans", "fontSize": 14, "fontWeight": "bold", "color": "#2f5597", "lineBreak": "\n", "lineHeight": 20},
          "encoding": {"text": {"condition": {"test": "datum.cat === 'End plates'", "field": "label", "type": "nominal"}, "value": ""}}
        },
        {
          "mark": {"type": "text", "radius": 243, "thetaOffset": 0.269, "font": "Open Sans", "fontSize": 14, "fontWeight": "bold", "color": "#9c6a3a", "lineBreak": "\n", "lineHeight": 20},
          "encoding": {"text": {"condition": {"test": "datum.cat === 'Pressure plates'", "field": "label", "type": "nominal"}, "value": ""}}
        },
        {
          "mark": {"type": "text", "radius": 130, "thetaOffset": -0.248, "font": "Open Sans", "fontSize": 14, "fontWeight": "bold", "color": "#000000", "lineBreak": "\n", "lineHeight": 20},
          "encoding": {"text": {"condition": {"test": "datum.cat === 'Bipolar plates'", "field": "label", "type": "nominal"}, "value": ""}}
        }
      ]
    }
  ]
}
